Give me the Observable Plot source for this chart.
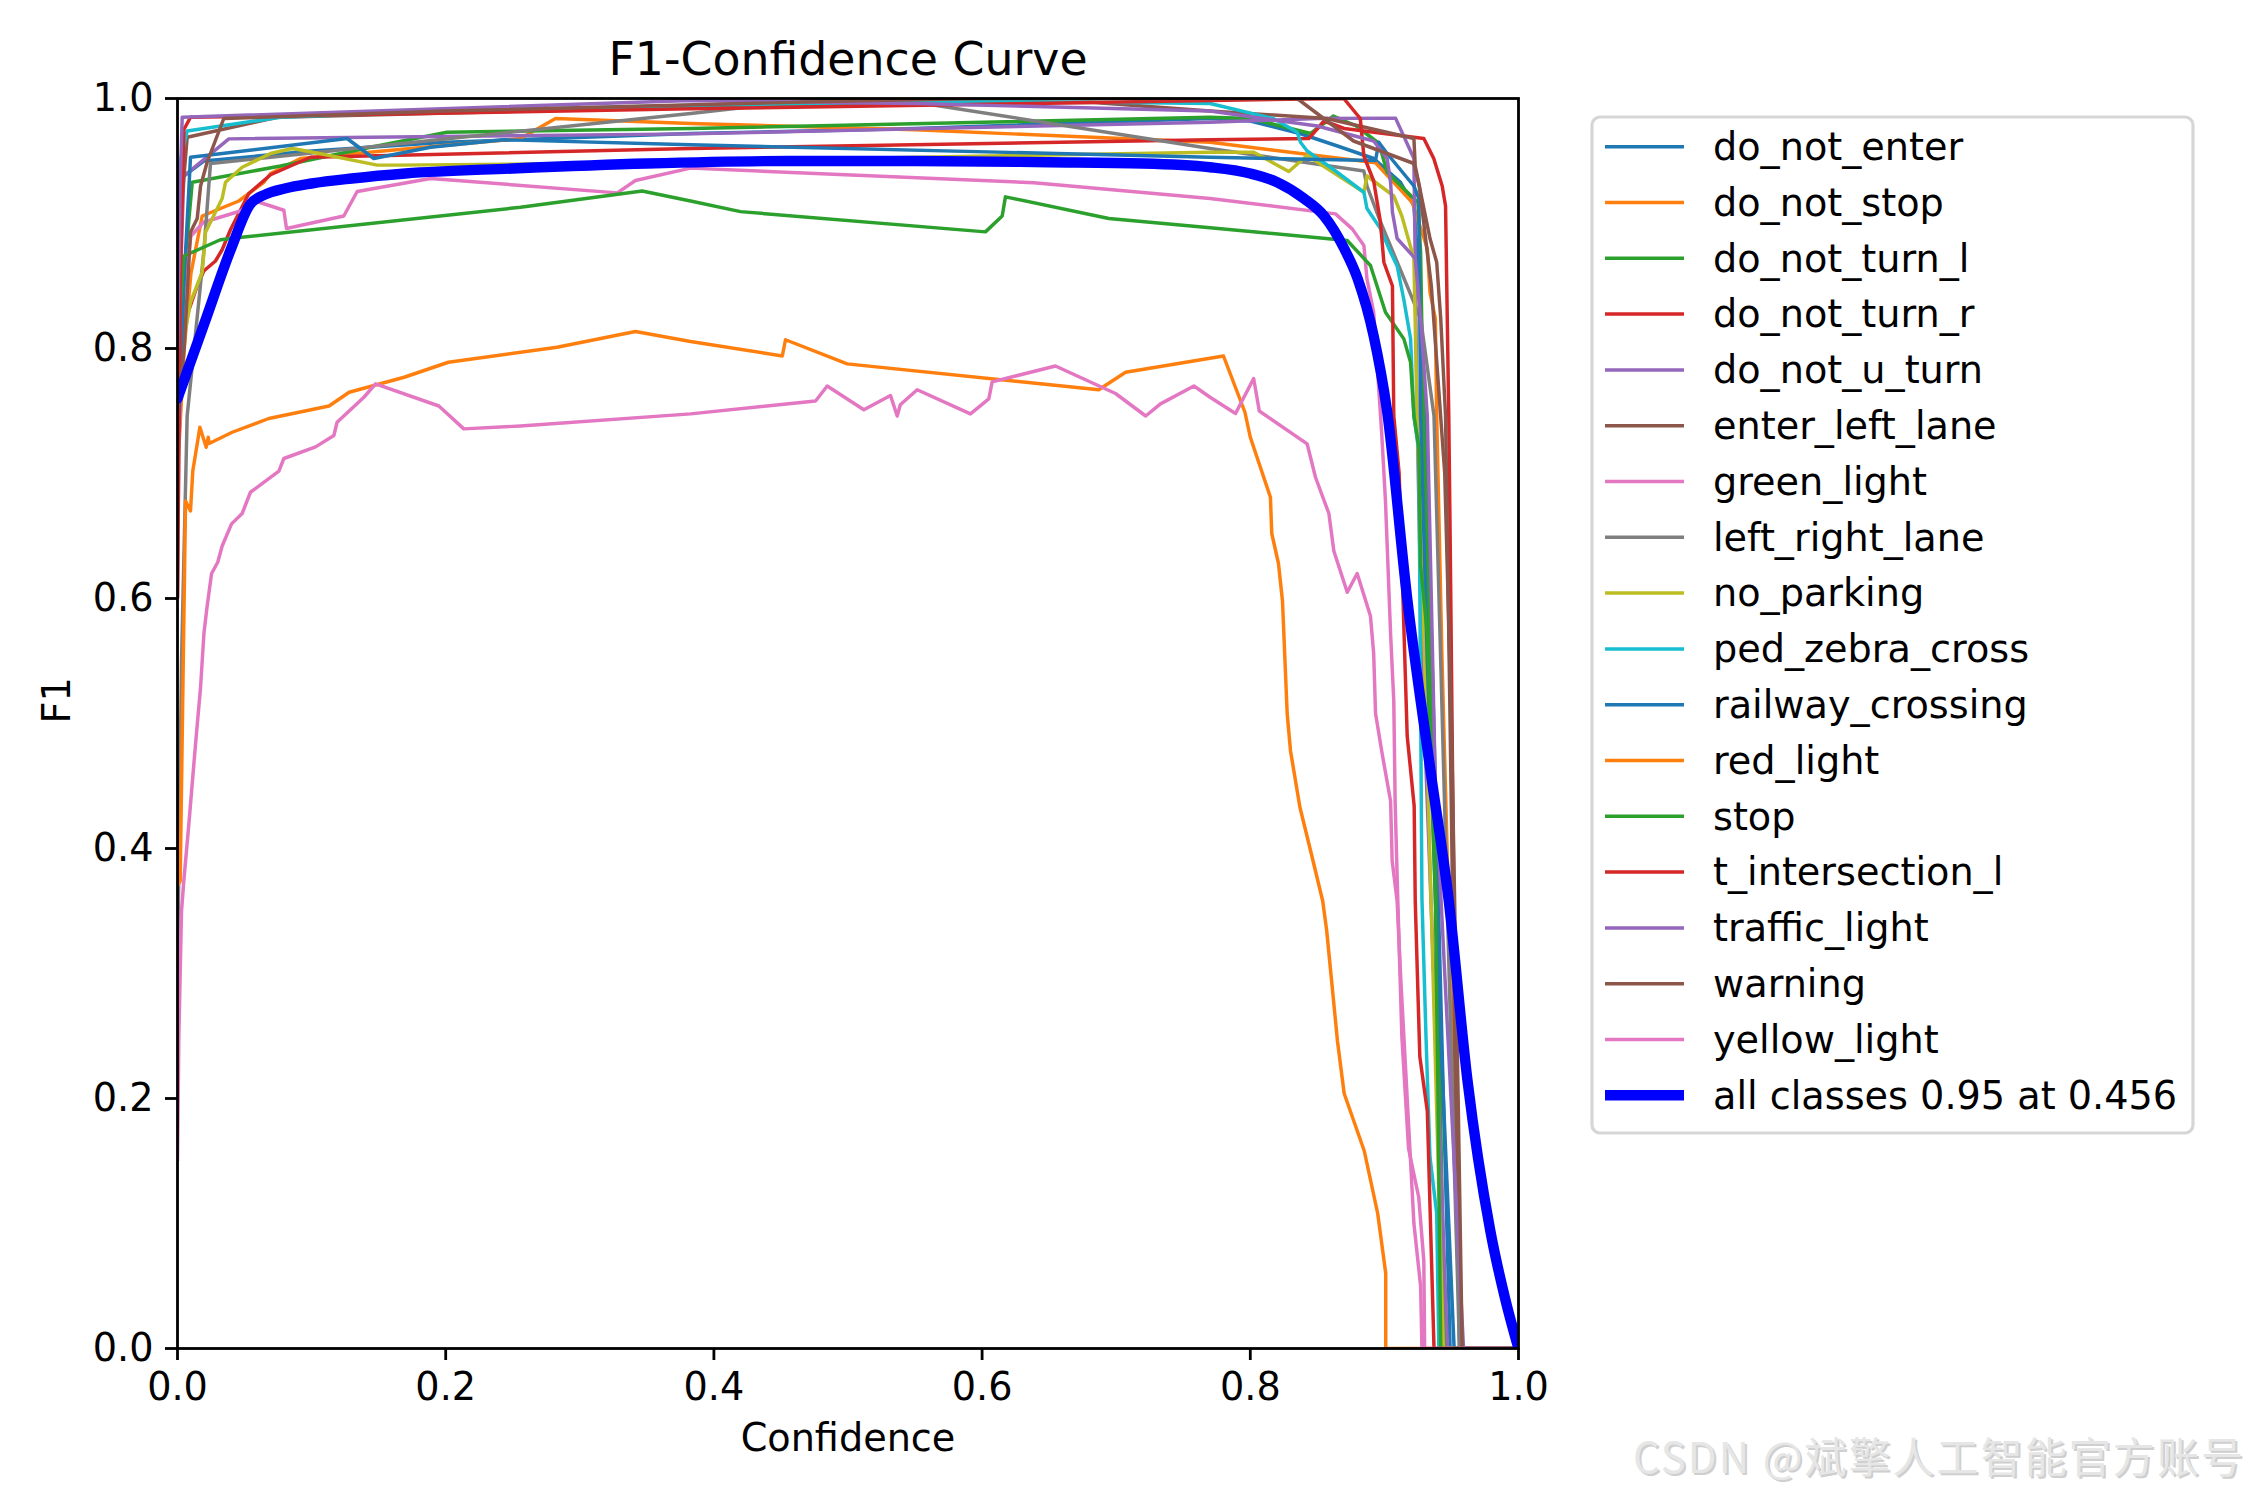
<!DOCTYPE html>
<html><head><meta charset="utf-8">
<script src="https://cdn.jsdelivr.net/npm/d3@7"></script>
<script src="https://cdn.jsdelivr.net/npm/@observablehq/plot@0.6"></script>
<style>body{margin:0;background:#fff}svg{display:block}</style>
</head><body><div id="chart"></div>
<script>
// ---------------- DATA (confidence, F1) ----------------
const classNames = ["do_not_enter","do_not_stop","do_not_turn_l","do_not_turn_r","do_not_u_turn","enter_left_lane","green_light","left_right_lane","no_parking","ped_zebra_cross","railway_crossing","red_light","stop","t_intersection_l","traffic_light","warning","yellow_light"];
const xTicks = [0, 0.2, 0.4, 0.6, 0.8, 1.0];
const yTicks = [0, 0.2, 0.4, 0.6, 0.8, 1.0];

const do_not_enter = [[0,0.80],[0.002,0.90],[0.0035,0.937],[0.0196,0.950],[0.1,0.958],[0.2,0.965],[0.3826,0.972],[0.55,0.976],[0.77,0.984],[0.80,0.982],[0.837,0.972],[0.865,0.962],[0.892,0.952],[0.912,0.933],[0.922,0.914],[0.927,0.838],[0.932,0.70],[0.938,0.45],[0.944,0.20],[0.949,0],[1,0]];
const do_not_stop = [[0,0.70],[0.005,0.80],[0.01,0.86],[0.0184,0.906],[0.0457,0.918],[0.0644,0.933],[0.0694,0.940],[0.0917,0.952],[0.2558,0.968],[0.2819,0.984],[0.3826,0.980],[0.55,0.975],[0.77,0.965],[0.8934,0.9486],[0.9207,0.917],[0.932,0.880],[0.934,0.845],[0.938,0.824],[0.939,0.746],[0.943,0.55],[0.948,0.35],[0.953,0.15],[0.957,0],[1,0]];
const do_not_turn_l = [[0,0.75],[0.004,0.85],[0.011,0.933],[0.0768,0.946],[0.144,0.961],[0.201,0.973],[0.3826,0.976],[0.77,0.985],[0.80,0.984],[0.845,0.972],[0.862,0.986],[0.879,0.978],[0.896,0.964],[0.902,0.941],[0.92,0.922],[0.925,0.917],[0.927,0.877],[0.929,0.746],[0.934,0.55],[0.94,0.30],[0.945,0],[1,0]];
const do_not_turn_r = [[0,0.78],[0.005,0.82],[0.0147,0.850],[0.0196,0.862],[0.0283,0.870],[0.0333,0.879],[0.0395,0.895],[0.0532,0.924],[0.0694,0.939],[0.0992,0.953],[0.3826,0.960],[0.77,0.967],[0.8436,0.968],[0.855,0.982],[0.87,0.976],[0.9294,0.968],[0.9368,0.952],[0.9431,0.93],[0.9456,0.914],[0.948,0.746],[0.949,0.652],[0.9518,0.358],[0.955,0.15],[0.957,0],[1,0]];
const do_not_u_turn = [[0,0.70],[0.002,0.85],[0.0047,0.938],[0.0383,0.9677],[0.3826,0.9717],[0.77,0.981],[0.85,0.984],[0.9083,0.9843],[0.922,0.952],[0.9244,0.746],[0.928,0.55],[0.935,0.35],[0.942,0.15],[0.947,0],[1,0]];
const enter_left_lane = [[0,0.85],[0.0022,0.904],[0.0072,0.969],[0.0743,0.985],[0.3826,0.9933],[0.681,0.997],[0.77,0.990],[0.857,0.984],[0.922,0.968],[0.923,0.946],[0.934,0.888],[0.939,0.869],[0.942,0.824],[0.9456,0.746],[0.949,0.5],[0.953,0.2],[0.956,0],[1,0]];
const green_light = [[0,0.60],[0.001,0.72],[0.005,0.85],[0.01,0.89],[0.0194,0.901],[0.047,0.910],[0.058,0.918],[0.0793,0.9106],[0.0813,0.896],[0.124,0.906],[0.134,0.9256],[0.1887,0.936],[0.328,0.9245],[0.3415,0.9344],[0.3826,0.9443],[0.6386,0.9326],[0.77,0.920],[0.8635,0.9077],[0.876,0.8957],[0.8847,0.8824],[0.887,0.8557],[0.892,0.829],[0.898,0.732],[0.9008,0.678],[0.9046,0.572],[0.907,0.518],[0.908,0.438],[0.910,0.358],[0.913,0.25],[0.918,0.16],[0.9256,0.121],[0.9294,0.07],[0.930,0],[1,0]];
const left_right_lane = [[0,0.30],[0.003,0.55],[0.0072,0.746],[0.0196,0.877],[0.0246,0.948],[0.3826,0.988],[0.482,1.0],[0.5565,0.996],[0.77,0.960],[0.8847,0.942],[0.887,0.930],[0.897,0.9015],[0.922,0.837],[0.927,0.824],[0.937,0.746],[0.942,0.55],[0.947,0.35],[0.952,0.15],[0.956,0],[1,0]];
const no_parking = [[0,0.754],[0.0047,0.807],[0.0097,0.837],[0.0184,0.861],[0.0209,0.893],[0.0333,0.920],[0.0358,0.933],[0.0482,0.945],[0.0694,0.956],[0.0855,0.960],[0.0992,0.9574],[0.1489,0.9467],[0.164,0.9467],[0.3,0.948],[0.5,0.952],[0.77,0.957],[0.8026,0.957],[0.8287,0.9416],[0.8424,0.9544],[0.8847,0.925],[0.887,0.938],[0.907,0.922],[0.913,0.906],[0.922,0.872],[0.9244,0.746],[0.93,0.55],[0.935,0.35],[0.94,0.15],[0.944,0],[1,0]];
const ped_zebra_cross = [[0,0.85],[0.002,0.95],[0.0072,0.974],[0.0768,0.985],[0.2,0.99],[0.4,0.995],[0.6,0.998],[0.77,0.996],[0.8175,0.9838],[0.835,0.973],[0.8374,0.965],[0.8424,0.958],[0.861,0.944],[0.8847,0.925],[0.887,0.912],[0.897,0.896],[0.9046,0.877],[0.9095,0.866],[0.9145,0.839],[0.9195,0.808],[0.922,0.746],[0.9257,0.718],[0.928,0.36],[0.931,0.25],[0.934,0.153],[0.939,0.108],[0.9406,0],[1,0]];
const railway_crossing = [[0,0.70],[0.003,0.80],[0.0047,0.850],[0.0097,0.953],[0.1265,0.968],[0.1327,0.963],[0.1464,0.952],[0.1887,0.961],[0.2433,0.967],[0.3826,0.963],[0.77,0.953],[0.8934,0.9504],[0.8958,0.965],[0.902,0.956],[0.922,0.930],[0.9257,0.920],[0.927,0.746],[0.932,0.55],[0.94,0.30],[0.948,0.1],[0.952,0],[1,0]];
const red_light = [[0,0.37],[0.002,0.374],[0.006,0.678],[0.0097,0.670],[0.0114,0.702],[0.0167,0.737],[0.0214,0.721],[0.0229,0.729],[0.0236,0.724],[0.0408,0.733],[0.0681,0.744],[0.113,0.754],[0.128,0.765],[0.169,0.777],[0.202,0.789],[0.283,0.801],[0.3415,0.8136],[0.3826,0.8056],[0.451,0.794],[0.4534,0.807],[0.4994,0.7877],[0.687,0.767],[0.707,0.781],[0.780,0.794],[0.796,0.749],[0.800,0.729],[0.815,0.681],[0.816,0.652],[0.821,0.628],[0.824,0.598],[0.8275,0.508],[0.830,0.478],[0.837,0.433],[0.845,0.398],[0.854,0.358],[0.857,0.334],[0.865,0.246],[0.870,0.204],[0.885,0.158],[0.895,0.108],[0.901,0.060],[0.901,0],[1,0]];
const stop = [[0,0.80],[0.0047,0.874],[0.032,0.887],[0.048,0.889],[0.2558,0.913],[0.3465,0.926],[0.3826,0.918],[0.4198,0.9095],[0.6025,0.8933],[0.615,0.906],[0.6174,0.9213],[0.6945,0.904],[0.770,0.8966],[0.8723,0.8864],[0.8896,0.8664],[0.9008,0.829],[0.9145,0.8077],[0.9195,0.789],[0.922,0.746],[0.9257,0.721],[0.927,0.6266],[0.932,0.572],[0.938,0.36],[0.940,0.2],[0.942,0],[1,0]];
const t_intersection_l = [[0,0.60],[0.002,0.85],[0.0047,0.975],[0.0097,0.985],[0.3826,0.9917],[0.5565,0.9946],[0.77,0.9984],[0.8697,1.0],[0.882,0.984],[0.8847,0.954],[0.892,0.934],[0.897,0.9015],[0.8996,0.869],[0.906,0.850],[0.907,0.746],[0.911,0.70],[0.917,0.49],[0.9222,0.434],[0.923,0.358],[0.9264,0.2336],[0.932,0.19],[0.937,0],[1,0]];
const traffic_light = [[0,0.80],[0.002,0.93],[0.0035,0.985],[0.3826,0.9984],[0.55,0.996],[0.77,0.990],[0.85,0.978],[0.892,0.966],[0.902,0.952],[0.9046,0.933],[0.906,0.909],[0.9095,0.888],[0.923,0.872],[0.927,0.824],[0.932,0.746],[0.935,0.6],[0.938,0.45],[0.945,0.3],[0.952,0.15],[0.959,0],[1,0]];
const warning = [[0,0.75],[0.005,0.80],[0.0097,0.893],[0.0147,0.904],[0.0172,0.93],[0.0221,0.949],[0.0345,0.984],[0.2,0.99],[0.5,0.998],[0.6,1.0],[0.835,1.0],[0.877,0.966],[0.922,0.948],[0.926,0.93],[0.935,0.85],[0.945,0.70],[0.95,0.5],[0.955,0.2],[0.958,0],[1,0]];
const yellow_light = [[0,0.15],[0.001,0.25],[0.003,0.35],[0.0047,0.374],[0.0085,0.42],[0.012,0.465],[0.0139,0.489],[0.0172,0.529],[0.0197,0.572],[0.022,0.593],[0.0254,0.620],[0.030,0.629],[0.0333,0.642],[0.0403,0.6597],[0.0482,0.668],[0.0544,0.685],[0.0756,0.7019],[0.0793,0.712],[0.103,0.7213],[0.1166,0.7304],[0.119,0.741],[0.139,0.761],[0.1477,0.7717],[0.1949,0.754],[0.2135,0.7357],[0.2558,0.738],[0.3826,0.7477],[0.4758,0.758],[0.4845,0.770],[0.5118,0.751],[0.5317,0.7624],[0.5367,0.746],[0.539,0.755],[0.5516,0.767],[0.5913,0.7477],[0.605,0.7597],[0.6075,0.7733],[0.6547,0.786],[0.6995,0.764],[0.722,0.746],[0.733,0.7557],[0.758,0.770],[0.770,0.761],[0.789,0.748],[0.8025,0.776],[0.8067,0.750],[0.8424,0.7237],[0.8486,0.697],[0.8586,0.668],[0.8623,0.638],[0.8723,0.605],[0.8797,0.62],[0.8896,0.586],[0.892,0.556],[0.8934,0.508],[0.8983,0.476],[0.9046,0.438],[0.9058,0.390],[0.9095,0.358],[0.912,0.30],[0.922,0.10],[0.927,0.05],[0.928,0],[1,0]];
const allClasses = [[0,0.76],[0.02,0.82],[0.04,0.88],[0.054,0.915],[0.065,0.923],[0.08,0.928],[0.1,0.932],[0.13,0.936],[0.17,0.940],[0.25,0.944],[0.35,0.948],[0.456,0.950],[0.55,0.950],[0.65,0.949],[0.72,0.948],[0.77,0.945],[0.80,0.940],[0.82,0.933],[0.84,0.920],[0.855,0.906],[0.87,0.880],[0.88,0.856],[0.892,0.81],[0.902,0.75],[0.917,0.60],[0.934,0.465],[0.948,0.358],[0.962,0.214],[0.979,0.094],[0.99,0.04],[1.0,0.0]];

const classSeries = [do_not_enter,do_not_stop,do_not_turn_l,do_not_turn_r,do_not_u_turn,enter_left_lane,green_light,left_right_lane,no_parking,ped_zebra_cross,railway_crossing,red_light,stop,t_intersection_l,traffic_light,warning,yellow_light];

// ---------------- STYLE ----------------
const palette = ["#1f77b4","#ff7f0e","#2ca02c","#d62728","#9467bd","#8c564b","#e377c2","#7f7f7f","#bcbd22","#17becf"];
const W = 2250, H = 1500;
const FS = 38.2;
const font = "DejaVu Sans";

const best = allClasses.reduce((a, b) => (b[1] > a[1] ? b : a));
const allLabel = `all classes ${best[1].toFixed(2)} at ${best[0].toFixed(3)}`;

const lineMarks = classSeries.map((s, i) =>
  Plot.line(s, {x: d => d[0], y: d => d[1], stroke: palette[i % 10], strokeWidth: 3.47,
    strokeLinejoin: "round", strokeLinecap: "butt", clip: true}));

const chart = Plot.plot({
  width: W, height: H,
  marginLeft: 177, marginRight: W - 1518, marginTop: 98, marginBottom: H - 1348,
  style: {fontFamily: font, fontSize: FS + "px", background: "white", color: "black", overflow: "visible"},
  x: {domain: [0, 1]},
  y: {domain: [0, 1]},
  marks: [
    ...lineMarks,
    Plot.line(allClasses, {x: d => d[0], y: d => d[1], stroke: "#0000ff", strokeWidth: 10.4, strokeLinejoin: "round", curve: "monotone-x", clip: true}),
    Plot.frame({stroke: "black", strokeWidth: 2.8}),
    Plot.axisX({ticks: xTicks, tickFormat: d => d.toFixed(1), tickSize: 12, tickPadding: 12, fontSize: FS, strokeWidth: 2.8, label: null}),
    Plot.axisY({ticks: yTicks, tickFormat: d => d.toFixed(1), tickSize: 12, tickPadding: 12, fontSize: FS, strokeWidth: 2.8, label: null}),
    Plot.text(["F1-Confidence Curve"], {frameAnchor: "top", dy: -38, fontSize: 45.8, lineAnchor: "middle"}),
    Plot.text(["Confidence"], {frameAnchor: "bottom", dy: 90, fontSize: FS, lineAnchor: "middle"}),
    Plot.text(["F1"], {frameAnchor: "left", dx: -120, rotate: -90, fontSize: FS, lineAnchor: "middle"})
  ]
});
document.getElementById("chart").appendChild(chart);

// ---------------- LEGEND (drawn into the same svg) ----------------
const svg = d3.select(chart);
const lg = svg.append("g").attr("font-family", font).attr("font-size", FS).attr("text-anchor", "start");
lg.append("rect").attr("x", 1592).attr("y", 117).attr("width", 601).attr("height", 1016)
  .attr("rx", 8).attr("fill", "white").attr("fill-opacity", 0.8)
  .attr("stroke", "#cccccc").attr("stroke-opacity", 0.8).attr("stroke-width", 3.2);
const entries = classNames.map((n, i) => ({label: n, color: palette[i % 10], w: 3.47}))
  .concat([{label: allLabel, color: "#0000ff", w: 10.4}]);
entries.forEach((e, i) => {
  const y = 146.7 + 55.8 * i;
  lg.append("line").attr("x1", 1605).attr("x2", 1684).attr("y1", y).attr("y2", y)
    .attr("stroke", e.color).attr("stroke-width", e.w);
  lg.append("text").attr("x", 1713).attr("y", y).attr("dy", "0.35em").attr("text-anchor", "start")
    .attr("fill", "black").text(e.label);
});

// watermark
const wm = "CSDN @斌擎人工智能官方账号";
const wg = svg.append("g").attr("text-anchor", "start").attr("font-family", "Noto Sans CJK SC").attr("font-size", 42);
wg.append("text").attr("x", 1635).attr("y", 1475).attr("textLength", 610).attr("lengthAdjust", "spacing")
  .attr("fill", "#b0b0b0").attr("opacity", 0.6).text(wm);
wg.append("text").attr("x", 1633).attr("y", 1473).attr("textLength", 610).attr("lengthAdjust", "spacing")
  .attr("fill", "#e6e6e6").text(wm);
</script></body></html>
